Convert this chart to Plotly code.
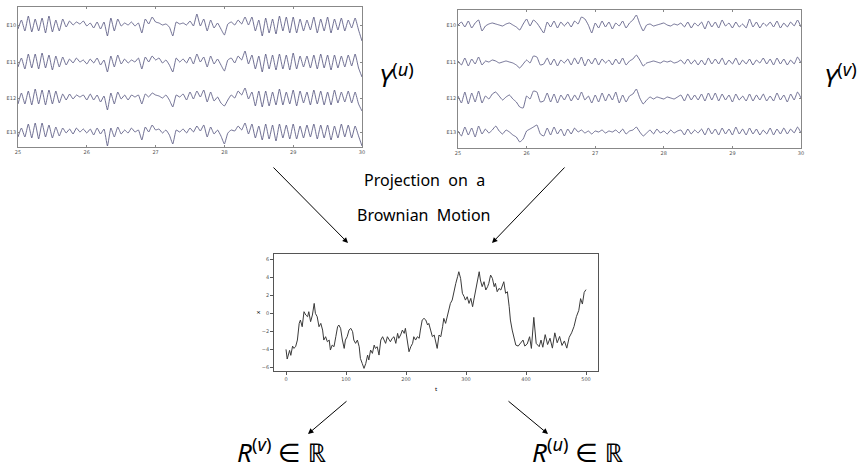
import plotly.graph_objects as go

W, H = 860, 469

# ---------------- data ----------------
eeg_times = [round(25 + 0.05 * i, 2) for i in range(101)]  # sample times (s)
channels = ["E10", "E11", "E12", "E13"]
time_ticks = [25, 26, 27, 28, 29, 30]

# condition u (left panel)
u_E10 = [-4,5,-6,9,-7,6,-6,7,-8,9, -7,5,-6,6,-2,4,0,3,1,4, -1,2,-3,3,-4,3,-11,7,-6,6,
         -1,2,0,3,-1,2,-8,6,1,8, 3,2,0,1,-2,-11,3,1,2,0, 4,-1,11,-1,6,-6,5,-3,2,-4,
         -10,1,3,0,5,1,8,0,8,-6, 5,-11,7,-8,6,-9,9,-6,8,-8, 8,-8,6,-6,5,-5,8,-8,6,-6,
         8,-8,6,-5,7,-6,5,-3,7,-5, -16]
u_E11 = [-5,4,-7,8,-6,8,-7,9,-6,7, -8,6,-5,5,-3,3,-1,4,0,2, -2,3,-1,4,-3,2,-10,6,-5,7,
         -2,3,-1,2,0,4,-7,5,0,6, 2,4,-1,2,-3,-10,4,0,3,-1, 5,-2,8,0,5,-5,6,-2,3,-3,
         -9,2,4,-1,6,2,11,-2,7,-7, 6,-10,8,-7,7,-8,8,-7,7,-8, 9,-7,6,-5,6,-6,7,-7,8,-6,
         7,-8,7,-6,6,-5,7,-4,8,-6, -15]
u_E12 = [-6,5,-6,7,-7,9,-6,8,-7,8, -6,7,-5,4,-2,4,-1,3,1,3, -2,4,-2,3,-4,2,-12,5,-6,6,
         -1,3,-2,3,1,3,-6,4,1,5, 3,2,0,3,-2,-9,3,1,4,-2, 6,-1,7,1,8,-4,6,-3,1,-5,
         -8,-2,3,0,7,3,10,-1,6,-8, 7,-9,7,-8,6,-7,9,-7,6,-6, 8,-8,7,-5,6,-7,8,-6,7,-7,
         6,-7,8,-5,6,-4,7,-5,6,-6, -13]
u_E13 = [-5,4,-5,8,-6,9,-7,9,-5,7, -6,5,-4,4,-1,3,-2,4,0,3, -1,3,-3,4,-2,3,-14,4,-5,5,
         -2,2,-1,4,0,2,-8,5,0,7, 2,3,-1,2,-3,-12,2,0,3,-1, 4,0,6,1,7,-5,5,-2,2,-4,
         -12,-1,2,1,6,2,9,-2,8,-6, 6,-8,8,-7,7,-9,8,-6,7,-7, 8,-7,6,-6,7,-5,8,-7,7,-6,
         7,-8,6,-6,8,-5,7,-6,6,-4, -14]

# condition v (right panel)
v_E10 = [0,3,-2,4,-3,2, 5,-6, -1,1,2,1,0,-1,1,2,0, -2,-5,1, 6,-1,5,2,-3, -8, 3,-2,4,-3,3,-1,
         3,-2,4,1,8,6,0, -8, 2,-3,4,-2,3,-4,2,-1,4,-3, 2,5,10,1,-6, 0,1,-1,0,1,2,0,-1,1,0,
         2,-2,3,-3,2,-1, 3,-4,4,-2,3,-3,5, -1,2,-3,3,-2,1,-3,6, -2,3,-3,2,-1,3,-2,4,-3,2,-2,3,-1, 5,-2]
v_E11 = [1,-3,4,-4,3,-2, 5,-3, 1,0,2,1,-1,0,1,0,-1, -3,-6,-2, 2,-1,6,5,-3, -2, 4,-3,3,-4,2,-1,
         3,-3,4,-2,5,-4,3, -2, 4,-3,3,-1,2,-3,3,-2,4,-3, 1,3,7,2,-4, -1,0,1,0,-1,1,0,1,-1,0,
         2,-2,3,-2,2,-3, 2,-3,4,-2,3,-2,4, -3,2,-2,4,-3,2,-2,3, -3,2,-1,4,-2,3,-3,4,-2,3,-3,2,-2, 5,-1]
v_E12 = [2,-5,6,-6,5,-4, 7,-5, 2,-1,4,6,2,-2,1,3,-1, -4,-9,-10, 2,-1,7,6,-4, -3, 5,-4,4,-5,3,-2,
         4,-3,3,-2,6,-2,2, -5, 3,-4,5,-3,4,-2,6,-5,3,-4, 2,4,9,0,-6, -2,1,-1,1,0,-1,1,0,-1,1,
         3,-3,4,-2,3,-2, 4,-3,5,-2,5,-3,4, -2,3,-4,4,-2,2,-3,4, -3,3,-2,4,-3,2,-3,5,-2,3,-4,4,-2, 6,0]
v_E13 = [1,-4,5,-3,4,-5,6,-2, 3,-1,2,6,1,-2,2,0,-3, -5,-10,-7, 1,3,5,7,-2, -4, 4,-3,5,-2,3,-4,
         3,-2,4,0,2,-1,1, -2, 1,0,2,-1,1,0,2,-1,3,-2, 1,2,5,0,-4, -1,2,-2,3,-1,1,-2,2,-1,1,
         2,-3,3,-2,2,-1, 3,-3,4,-2,3,-3,4, -2,3,-3,5,-2,3,-3,4, -2,3,-3,2,-2,4,-3,3,-2,4,-2,3,-1, 5,-1]

# Brownian motion path
bm_t = [0,2,6,8,11,13,16,19,22,24,
        27,30,33,36,38,41,44,47,49,52,
        55,58,61,63,66,69,72,74,77,80,
        83,86,88,91,94,97,99,102,105,108,
        111,113,116,119,122,124,127,130,133,136,
        138,141,144,147,149,152,155,158,161,163,
        166,169,172,174,177,180,183,186,188,191,
        194,197,199,202,205,208,211,213,216,219,
        222,224,227,230,233,236,238,241,244,247,
        249,252,255,258,261,263,266,269,272,274,
        277,280,283,286,288,291,294,297,299,302,
        305,308,311,313,316,319,322,324,327,330,
        333,336,338,341,344,347,349,352,355,358,
        361,363,366,369,372,374,377,380,383,387,
        391,395,398,402,406,409,413,417,422,425,
        428,432,436,440,444,448,452,456,460,464,
        468,472,476,480,484,488,491,494,497,500]
bm_x = [-4.04,-5.11,-4.15,-4.70,-3.67,-3.93,-3.74,-3.00,-1.15,-0.78,
        -1.52,0.15,-0.22,-0.41,0.15,-0.96,-0.22,1.07,-0.04,-0.41,
        -1.52,-1.15,-1.89,-3.00,-2.63,-3.19,-3.00,-4.11,-3.56,-3.74,
        -2.63,-1.52,-1.33,-1.70,-3.00,-3.93,-3.00,-2.63,-1.89,-1.70,
        -2.07,-3.00,-3.37,-3.00,-3.74,-5.04,-5.59,-6.15,-5.59,-4.67,
        -5.22,-4.11,-4.48,-3.56,-3.93,-3.74,-4.67,-3.00,-2.63,-3.00,
        -3.37,-2.63,-3.00,-3.19,-2.81,-2.63,-3.37,-2.26,-2.81,-2.44,
        -1.89,-2.26,-1.70,-3.00,-4.30,-3.74,-3.37,-2.63,-3.00,-2.63,
        -2.81,-1.89,-0.78,-0.59,-0.78,-1.33,-1.15,-1.89,-2.63,-2.44,
        -3.00,-3.93,-2.44,-2.63,-1.52,-0.59,-1.15,-0.22,0.70,1.07,
        1.44,2.56,3.30,4.04,4.59,3.85,2.19,1.81,1.44,1.81,
        1.07,1.63,0.70,1.44,2.56,3.30,4.59,3.67,2.93,3.48,
        2.56,2.93,3.30,4.22,3.85,2.93,3.30,2.37,2.74,2.56,
        3.11,3.48,2.19,2.37,0.70,-0.78,-1.89,-2.63,-3.56,-3.67,
        -3.37,-3.00,-3.67,-3.44,-2.63,-3.93,-0.48,-3.37,-3.74,-3.0,
        -3.8,-2.4,-3.5,-2.8,-3.9,-2.2,-3.3,-2.6,-3.6,-3.1,
        -3.9,-2.7,-2.2,-1.5,-0.4,0.3,1.6,1.0,2.3,2.6]
bm_ticks_t = [0, 100, 200, 300, 400, 500]
bm_ticks_x = [-6, -4, -2, 0, 2, 4, 6]

# ---------------- layout helpers ----------------
def px_x(p):
    return p / W

def px_y(p):
    return 1 - p / H

EEG_COLOR = "#4c4c78"
FONT = "Noto Sans, DejaVu Sans, sans-serif"
TICKFONT = dict(size=5, color="#555", family="DejaVu Sans")

# channel baselines inside each panel (px below panel top)
left_base = [-18, -55, -91, -125]
right_base = [-15, -52, -88, -122]

fig = go.Figure()

for base, tr in zip(left_base, [u_E10, u_E11, u_E12, u_E13]):
    fig.add_trace(go.Scatter(x=eeg_times, y=[base + v for v in tr], mode="lines",
                             line=dict(color=EEG_COLOR, width=0.8, shape="spline", smoothing=0.4),
                             xaxis="x", yaxis="y", hoverinfo="skip", showlegend=False))
for base, tr in zip(right_base, [v_E10, v_E11, v_E12, v_E13]):
    fig.add_trace(go.Scatter(x=eeg_times, y=[base + v for v in tr], mode="lines",
                             line=dict(color=EEG_COLOR, width=0.8, shape="spline", smoothing=0.4),
                             xaxis="x2", yaxis="y2", hoverinfo="skip", showlegend=False))
fig.add_trace(go.Scatter(x=bm_t, y=bm_x, mode="lines",
                         line=dict(color="#3a3a3a", width=1),
                         xaxis="x3", yaxis="y3", hoverinfo="skip", showlegend=False))

eeg_x_common = dict(range=[25, 30], tickvals=time_ticks, ticktext=[str(v) for v in time_ticks],
                    showline=True, linecolor="#888", linewidth=0.8, mirror="ticks",
                    ticks="inside", ticklen=2, tickcolor="#888", tickfont=TICKFONT,
                    showgrid=False, zeroline=False, fixedrange=True)
eeg_y_common = dict(showline=True, linecolor="#888", linewidth=0.8, mirror="ticks",
                    ticks="inside", ticklen=2, tickcolor="#888", tickfont=TICKFONT,
                    showgrid=False, zeroline=False, fixedrange=True, ticktext=channels)

fig.update_layout(
    width=W, height=H, margin=dict(l=0, r=0, t=0, b=0, autoexpand=False),
    paper_bgcolor="white", plot_bgcolor="white", showlegend=False,
    font=dict(family=FONT, color="black"),
    xaxis=dict(domain=[px_x(18), px_x(362)], anchor="y", **eeg_x_common),
    yaxis=dict(domain=[px_y(147), px_y(7)], anchor="x", range=[-140, 0],
               tickvals=left_base, **eeg_y_common),
    xaxis2=dict(domain=[px_x(458), px_x(801)], anchor="y2", **eeg_x_common),
    yaxis2=dict(domain=[px_y(148), px_y(10)], anchor="x2", range=[-138, 0],
                tickvals=right_base, **eeg_y_common),
    xaxis3=dict(domain=[px_x(274), px_x(598)], anchor="y3", range=[-20, 520],
                tickvals=bm_ticks_t, showline=True, linecolor="#555", linewidth=0.8,
                mirror=True, ticks="outside", ticklen=3, tickcolor="#555",
                tickfont=TICKFONT, showgrid=False, zeroline=False, fixedrange=True),
    yaxis3=dict(domain=[px_y(371), px_y(254)], anchor="x3", range=[-6.44, 6.56],
                tickvals=bm_ticks_x, showline=True, linecolor="#555", linewidth=0.8,
                mirror=True, ticks="outside", ticklen=3, tickcolor="#555",
                tickfont=TICKFONT, showgrid=False, zeroline=False, fixedrange=True),
)

ann = []
def label(text, x, y, size, xanchor="center", **kw):
    ann.append(dict(text=text, x=px_x(x), y=px_y(y), xref="paper", yref="paper",
                    showarrow=False, font=dict(size=size, family=FONT, color="black"),
                    xanchor=xanchor, yanchor="middle", **kw))

label("<i>Y</i><sup>(<i>u</i>)</sup>", 396, 76, 26)
label("<i>Y</i><sup>(<i>v</i>)</sup>", 859, 76, 26, xanchor="right")
label("Projection  on  a", 424, 180, 16)
label("Brownian  Motion", 424, 215, 16)
label("<i>R</i><sup>(<i>v</i>)</sup> ∈ ℝ", 282, 451, 26)
label("<i>R</i><sup>(<i>u</i>)</sup> ∈ ℝ", 578, 451, 26)
label("t", 436, 389, 6)
label("x", 258, 312, 6, textangle=-90)

def arrow(head, tail):
    ann.append(dict(text="", x=px_x(head[0]), y=px_y(head[1]), xref="paper", yref="paper",
                    ax=tail[0] - head[0], ay=tail[1] - head[1], axref="pixel", ayref="pixel",
                    showarrow=True, arrowhead=2, arrowsize=1.1, arrowwidth=1,
                    arrowcolor="black", standoff=0, startstandoff=0))

arrow((348, 243), (272, 166))
arrow((492, 243), (566, 166))
arrow((308, 434), (348, 400))
arrow((548, 434), (507, 400))

fig.update_layout(annotations=ann)
fig.write_html("out.html", config={"displayModeBar": False},
               post_script="document.body.style.margin='0';document.body.style.overflow='hidden';")
